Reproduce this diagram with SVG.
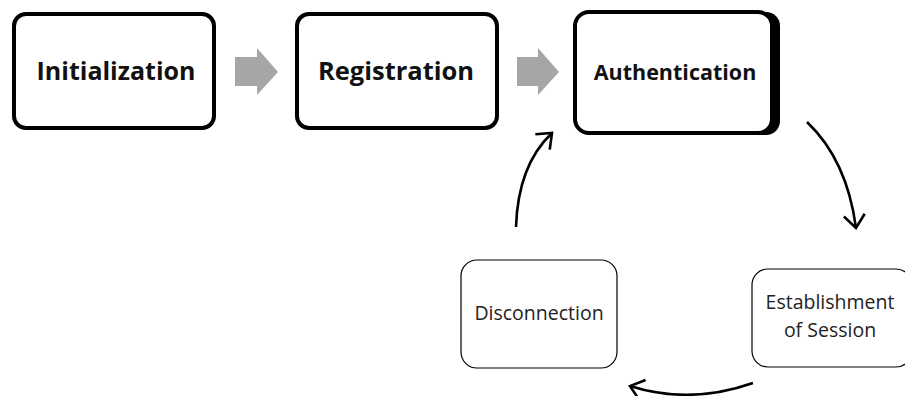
<svg xmlns="http://www.w3.org/2000/svg" width="905" height="396" viewBox="0 0 905 396">
<defs>
<style>
.big{fill:#fff;stroke:#000;stroke-width:4}
.small{fill:#fff;stroke:#000;stroke-width:1.2}
.tb{font-family:"Open Sans","Liberation Sans",sans-serif;font-weight:bold;fill:#111;text-anchor:middle}
.tn{font-family:"Open Sans","Liberation Sans",sans-serif;fill:#222;text-anchor:middle;font-size:19.5px}
.gray{fill:#a6a6a6}
.conn{fill:none;stroke:#000;stroke-width:2.6}
</style>
<marker id="ah" viewBox="0 0 18 24" refX="15" refY="12" markerWidth="18" markerHeight="24" markerUnits="userSpaceOnUse" orient="auto">
<path d="M2,1.5 L15,12 L2,22.5" fill="none" stroke="#000" stroke-width="2.6"/>
</marker>
</defs>
<rect width="905" height="396" fill="#fff"/>
<g id="initialization">
<rect class="big" x="14" y="14" width="200" height="114" rx="12"/>
<text class="tb" x="116" y="80" font-size="25">Initialization</text>
</g>
<g id="registration">
<rect class="big" x="297" y="14" width="200" height="114" rx="12"/>
<text class="tb" x="396" y="80" font-size="25.5">Registration</text>
</g>
<g id="authentication">
<rect x="580" y="12" width="200" height="123" rx="14" fill="#000"/>
<rect class="big" x="575" y="12" width="197" height="121" rx="14"/>
<text class="tb" x="675" y="80" font-size="21.5">Authentication</text>
</g>
<g id="disconnection">
<rect class="small" x="461" y="260" width="156" height="108" rx="16"/>
<text class="tn" x="539" y="320">Disconnection</text>
</g>
<g id="establishment">
<rect class="small" x="752" y="269" width="160" height="98" rx="16"/>
<text class="tn" x="830" y="309">Establishment</text>
<text class="tn" x="830" y="337">of Session</text>
</g>
<g id="connectors">
<polygon class="gray" points="235,57 257,57 257,48 278,72 257,95 257,86 235,86"/>
<polygon class="gray" points="517,57 538,57 538,48 559,72 538,95 538,86 517,86"/>
<path class="conn" d="M807,122 Q847,160 856,228" marker-end="url(#ah)"/>
<path class="conn" d="M753,383 Q690,405 630,386" marker-end="url(#ah)"/>
<path class="conn" d="M516,227 Q518,165 552,133" marker-end="url(#ah)"/>
</g>
</svg>
